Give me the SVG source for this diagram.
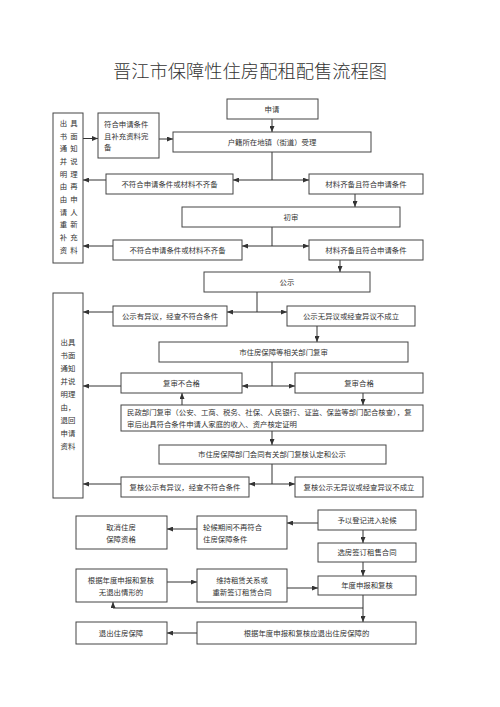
<svg xmlns="http://www.w3.org/2000/svg" width="500" height="707" viewBox="0 0 500 707">
<defs>
<marker id="arr" markerUnits="userSpaceOnUse" markerWidth="6" markerHeight="5" refX="6" refY="2.5" orient="auto">
<path d="M0,0 L6,2.5 L0,5 z" fill="#333"/>
</marker>
<style>
rect{fill:#fff;stroke:#444;stroke-width:1}
text{font-family:"Liberation Serif","Noto Sans CJK SC",serif;font-size:7.4px;fill:#333}
.c{text-anchor:middle;dominant-baseline:central}
.l{text-anchor:start;dominant-baseline:central}
.title{font-size:18.3px;font-weight:300;text-anchor:middle;dominant-baseline:central;fill:#333}
#connectors path,#connectors line,#connectors polyline{fill:none;stroke:#333;stroke-width:1}
.a{marker-end:url(#arr)}
</style>
</defs>
<rect x="0" y="0" width="500" height="707" style="stroke:none"/>
<text class="title" x="250" y="72">晋江市保障性住房配租配售流程图</text>

<g id="connectors">
<line class="a" x1="272" y1="119" x2="272" y2="132"/>
<line class="a" x1="83" y1="138.5" x2="98" y2="138.5"/>
<line class="a" x1="159" y1="139" x2="173" y2="139"/>
<line x1="272" y1="152" x2="272" y2="180"/>
<line class="a" x1="272" y1="180" x2="233" y2="180"/>
<line class="a" x1="272" y1="180" x2="309" y2="180"/>
<line class="a" x1="106" y1="180" x2="83" y2="180"/>
<line class="a" x1="355" y1="194" x2="355" y2="207"/>
<line x1="272" y1="227" x2="272" y2="246"/>
<line class="a" x1="272" y1="246" x2="242" y2="246"/>
<line class="a" x1="272" y1="246" x2="309" y2="246"/>
<line class="a" x1="113" y1="246" x2="83" y2="246"/>
<line class="a" x1="340" y1="260" x2="340" y2="272"/>
<line x1="257" y1="292" x2="257" y2="312"/>
<line class="a" x1="257" y1="312" x2="227" y2="312"/>
<line class="a" x1="257" y1="312" x2="287" y2="312"/>
<line class="a" x1="113" y1="312" x2="83" y2="312"/>
<line class="a" x1="317" y1="326" x2="317" y2="342"/>
<line x1="272" y1="362" x2="272" y2="386"/>
<line class="a" x1="272" y1="386" x2="242" y2="386"/>
<line class="a" x1="272" y1="386" x2="295" y2="386"/>
<line class="a" x1="121" y1="386" x2="83" y2="386"/>
<line class="a" x1="363" y1="393" x2="363" y2="405"/>
<line class="a" x1="182" y1="405" x2="182" y2="393"/>
<line class="a" x1="272" y1="431" x2="272" y2="445"/>
<line x1="272" y1="464" x2="272" y2="484"/>
<line class="a" x1="272" y1="484" x2="249" y2="484"/>
<line class="a" x1="272" y1="484" x2="295" y2="484"/>
<line class="a" x1="121" y1="484" x2="83" y2="484"/>
<line class="a" x1="318" y1="523" x2="287" y2="523"/>
<line class="a" x1="197" y1="529" x2="167" y2="529"/>
<line class="a" x1="363" y1="530" x2="363" y2="543"/>
<line class="a" x1="363" y1="562" x2="363" y2="576"/>
<line class="a" x1="167" y1="582" x2="197" y2="582"/>
<line class="a" x1="287" y1="588" x2="318" y2="588"/>
<line class="a" x1="363" y1="595" x2="363" y2="622"/>
<polyline class="a" points="363,608 113,608 113,602"/>
<line class="a" x1="197" y1="633" x2="167" y2="633"/>
</g>

<g id="apply"><rect x="227" y="99" width="91" height="20"/><text class="c" x="272" y="109">申请</text></g>
<g id="huji"><rect x="173" y="132" width="198" height="20"/><text class="c" x="272" y="142">户籍所在地镇（街道）受理</text></g>
<g id="left1"><rect x="53" y="113" width="30" height="150"/>
<text class="c" x="63.5" y="123.3">出</text><text class="c" x="74" y="123.3">具</text>
<text class="c" x="63.5" y="136">书</text><text class="c" x="74" y="136">面</text>
<text class="c" x="63.5" y="148.7">通</text><text class="c" x="74" y="148.7">知</text>
<text class="c" x="63.5" y="161.4">并</text><text class="c" x="74" y="161.4">说</text>
<text class="c" x="63.5" y="174.1">明</text><text class="c" x="74" y="174.1">理</text>
<text class="c" x="63.5" y="186.8">由</text><text class="c" x="74" y="186.8">再</text>
<text class="c" x="63.5" y="199.5">由</text><text class="c" x="74" y="199.5">申</text>
<text class="c" x="63.5" y="212.2">请</text><text class="c" x="74" y="212.2">人</text>
<text class="c" x="63.5" y="224.9">重</text><text class="c" x="74" y="224.9">新</text>
<text class="c" x="63.5" y="237.6">补</text><text class="c" x="74" y="237.6">充</text>
<text class="c" x="63.5" y="250.3">资</text><text class="c" x="74" y="250.3">料</text>
</g>
<g id="fuhe"><rect x="98" y="113" width="61" height="45"/>
<text class="l" x="104" y="124">符合申请条件</text>
<text class="l" x="104" y="136">且补充资料完</text>
<text class="l" x="104" y="147.5">备</text></g>
<g id="buhe1"><rect x="106" y="174" width="127" height="20"/><text class="c" x="169.5" y="184">不符合申请条件或材料不齐备</text></g>
<g id="cailiao1"><rect x="309" y="174" width="114" height="20"/><text class="c" x="366" y="184">材料齐备且符合申请条件</text></g>
<g id="chushen"><rect x="182" y="207" width="218" height="20"/><text class="c" x="291" y="217">初审</text></g>
<g id="buhe2"><rect x="113" y="240" width="129" height="20"/><text class="c" x="177.5" y="250">不符合申请条件或材料不齐备</text></g>
<g id="cailiao2"><rect x="309" y="240" width="114" height="20"/><text class="c" x="366" y="250">材料齐备且符合申请条件</text></g>
<g id="gongshi"><rect x="204" y="272" width="166" height="20"/><text class="c" x="287" y="282">公示</text></g>
<g id="yiyi"><rect x="113" y="306" width="114" height="20"/><text class="c" x="170" y="316">公示有异议，经查不符合条件</text></g>
<g id="wuyiyi"><rect x="287" y="306" width="128" height="20"/><text class="c" x="351" y="316">公示无异议或经查异议不成立</text></g>
<g id="left2"><rect x="53" y="293" width="30" height="205"/>
<text class="c" x="68" y="342.3">出具</text>
<text class="c" x="68" y="355.4">书面</text>
<text class="c" x="68" y="368.4">通知</text>
<text class="c" x="68" y="381.5">并说</text>
<text class="c" x="68" y="394.5">明理</text>
<text class="c" x="68" y="407.6">由，</text>
<text class="c" x="68" y="420.6">退回</text>
<text class="c" x="68" y="433.7">申请</text>
<text class="c" x="68" y="446.7">资料</text>
</g>
<g id="fushen"><rect x="159" y="342" width="249" height="20"/><text class="c" x="283.5" y="352">市住房保障等相关部门复审</text></g>
<g id="fushen_no"><rect x="121" y="373" width="121" height="20"/><text class="c" x="181.5" y="383">复审不合格</text></g>
<g id="fushen_yes"><rect x="295" y="373" width="128" height="20"/><text class="c" x="359" y="383">复审合格</text></g>
<g id="minzheng"><rect x="121" y="405" width="302" height="26"/>
<text class="l" x="127" y="412.5">民政部门复审（公安、工商、税务、社保、人民银行、证监、保监等部门配合核查），复</text>
<text class="l" x="127" y="424.5">审后出具符合条件申请人家庭的收入、资产核定证明</text></g>
<g id="huitong"><rect x="159" y="445" width="227" height="19"/><text class="c" x="272" y="454.5">市住房保障部门会同有关部门复核认定和公示</text></g>
<g id="fh_yiyi"><rect x="121" y="477" width="128" height="20"/><text class="c" x="185" y="487">复核公示有异议，经查不符合条件</text></g>
<g id="fh_wuyiyi"><rect x="295" y="477" width="128" height="20"/><text class="c" x="359" y="487">复核公示无异议或经查异议不成立</text></g>
<g id="quxiao"><rect x="76" y="516" width="91" height="33"/>
<text class="c" x="121" y="527">取消住房</text><text class="c" x="121" y="539.5">保障资格</text></g>
<g id="lunhou_no"><rect x="197" y="516" width="90" height="33"/>
<text class="l" x="203" y="527">轮候期间不再符合</text><text class="l" x="203" y="539.5">住房保障条件</text></g>
<g id="dengji"><rect x="318" y="510" width="98" height="20"/><text class="c" x="367" y="520">予以登记进入轮候</text></g>
<g id="xuanfang"><rect x="318" y="543" width="98" height="19"/><text class="c" x="367" y="552.5">选房签订租售合同</text></g>
<g id="niandu"><rect x="318" y="576" width="98" height="19"/><text class="c" x="367" y="585.5">年度申报和复核</text></g>
<g id="wutuichu"><rect x="76" y="569" width="91" height="33"/>
<text class="c" x="121" y="580">根据年度申报和复核</text><text class="c" x="121" y="592">无退出情形的</text></g>
<g id="weichi"><rect x="197" y="569" width="90" height="33"/>
<text class="c" x="242" y="580">维持租赁关系或</text><text class="c" x="242" y="592">重新签订租赁合同</text></g>
<g id="tuichu"><rect x="76" y="622" width="91" height="22"/><text class="c" x="121" y="633">退出住房保障</text></g>
<g id="yingtuichu"><rect x="197" y="622" width="219" height="22"/><text class="c" x="306.5" y="633">根据年度申报和复核应退出住房保障的</text></g>
</svg>
